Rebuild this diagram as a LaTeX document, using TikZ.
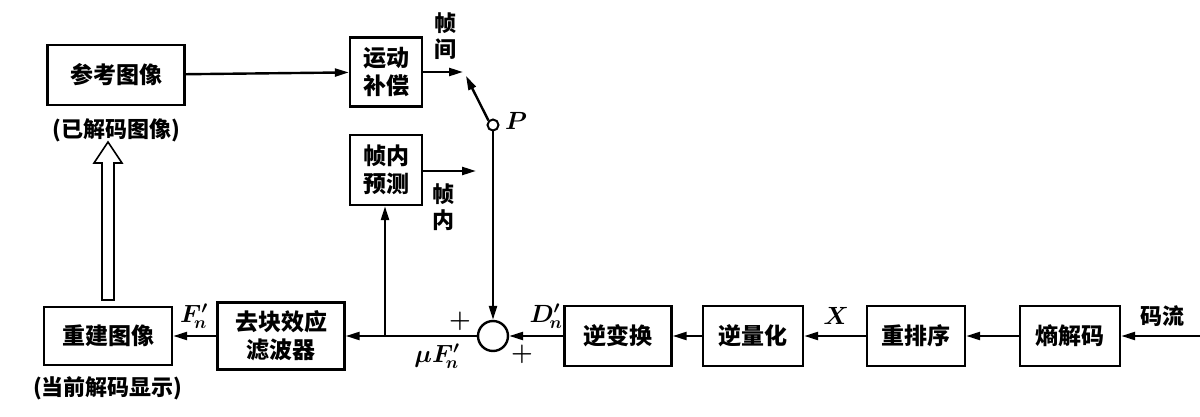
\documentclass[tikz,border=0pt]{standalone}
\usepackage{bm}
\usepackage{fontspec}
\newfontfamily\cjk{Noto Sans CJK SC}
\usetikzlibrary{arrows.meta,calc}
\begin{document}
\begin{tikzpicture}[x=1pt,y=-1pt,
  blk/.style={draw,line width=2.4pt,minimum height=60pt,inner sep=2pt,font=\cjk\fontsize{23}{28}\selectfont\bfseries,align=center},
  lab/.style={font=\cjk\fontsize{22}{26}\selectfont\bfseries,align=center},
  ml/.style={font=\fontsize{24}{26}\selectfont},
  con/.style={line width=2.4pt,-{Triangle[length=14pt,width=8pt]}}]
\useasboundingbox (0,0) rectangle (1200,417);
\node[blk,minimum width=137pt] (ref) at (116,75) {参考图像};
\node[lab] (refl) at (116,130) {(已解码图像)};
\node[blk,minimum width=72pt,minimum height=69pt] (mc) at (386,72) {运动\\补偿};
\node[blk,minimum width=72pt,minimum height=70pt] (ip) at (386,170) {帧内\\预测};
\node[blk,minimum width=128pt,minimum height=58pt] (rec) at (108,336) {重建图像};
\node[lab] (recl) at (108,388) {(当前解码显示)};
\node[blk,minimum width=127pt,minimum height=67pt] (dbf) at (281,336) {去块效应\\滤波器};
\node[draw,circle,line width=2.4pt,minimum size=30pt,inner sep=0pt] (sum) at (493,336) {};
\node[blk,minimum width=107pt] (it) at (618,336) {逆变换};
\node[blk,minimum width=100pt] (iq) at (753,336) {逆量化};
\node[blk,minimum width=98pt] (ro) at (916,336) {重排序};
\node[blk,minimum width=100pt] (ed) at (1070,336) {熵解码};
\node[lab] (bs) at (1162,316) {码流};
\coordinate (bsin) at (1200,336);
\node[lab] (inter) at (445,36) {帧\\间};
\node[lab] (intra) at (443,207) {帧\\内};
\coordinate (sw) at (463,72);
\node[draw,circle,line width=2pt,minimum size=11pt,inner sep=0pt] (P) at (493,125) {};
\node[ml] (Pl) at (516,121) {$\bm{P}$};
\coordinate (ipo) at (476,171);
\coordinate (br) at (385,336);
\node[ml] (Fn) at (194,316) {$\bm{F'_{\!n}}$};
\node[ml] (pl1) at (460,321) {$\bm{+}$};
\node[ml] (mu) at (437,356) {$\bm{\mu F'_{\!n}}$};
\node[ml] (Dn) at (546,316) {$\bm{D'_{\!n}}$};
\node[ml] (pl2) at (522,354) {$\bm{+}$};
\node[ml] (X) at (836,316) {$\bm{X}$};
\draw[con] (ref) -- (mc);
\draw[con] (mc.east) -- (sw);
\draw[con] (P.north west) -- ($(sw)+(3,4)$);
\draw[con] (ip.east|-ipo) -- (ipo);
\draw[con] (P.south) -- (sum.north);
\draw[con] (bsin) -- (ed);
\draw[con] (ed) -- (ro);
\draw[con] (ro) -- (iq);
\draw[con] (iq) -- (it);
\draw[con] (it) -- (sum);
\draw[con] (sum) -- (dbf);
\draw[con] (dbf) -- (rec);
\draw[con] (br) -- (ip.south-|br);
\draw[line width=1.6pt] (102,300) -- (102,163) -- (94,163) -- (108,142) -- (122,163) -- (114,163) -- (114,300) -- cycle;
\end{tikzpicture}
\end{document}
